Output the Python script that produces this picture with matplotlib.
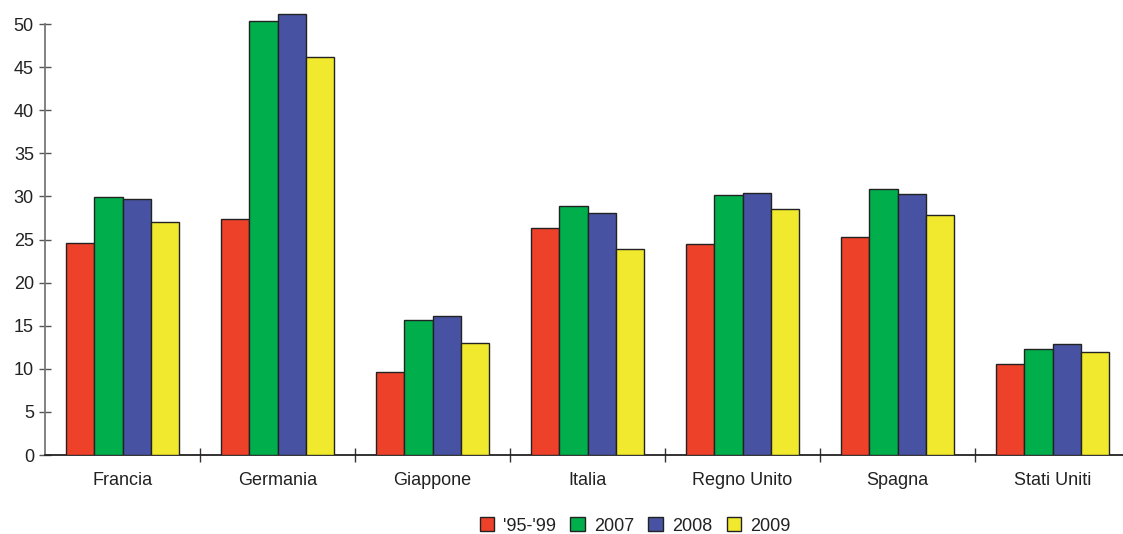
import numpy as np
import matplotlib
matplotlib.use("Agg")
import matplotlib.pyplot as plt

plt.rcParams['font.family'] = ['Liberation Sans', 'DejaVu Sans']

# ── data ─────────────────────────────────────────────────────────────────
countries = ["Francia", "Germania", "Giappone", "Italia", "Regno Unito", "Spagna", "Stati Uniti"]
series_labels = ["'95-'99", "2007", "2008", "2009"]
v_95_99 = [24.6, 27.4, 9.6, 26.3, 24.5, 25.3, 10.6]
v_2007 = [29.9, 50.3, 15.7, 28.9, 30.2, 30.9, 12.3]
v_2008 = [29.7, 51.2, 16.1, 28.1, 30.4, 30.3, 12.9]
v_2009 = [27.0, 46.2, 13.0, 23.9, 28.5, 27.8, 11.9]
yticks = [0, 5, 10, 15, 20, 25, 30, 35, 40, 45, 50]

colors = ["#EE4129", "#00AF4C", "#4753A2", "#F1E92D"]

fig = plt.figure(figsize=(11.23, 5.34), dpi=100)
# axes runs past the right edge, as in the original
ax = fig.add_axes([45 / 1123, (534 - 455) / 534, 1085 / 1123, (455 - 2.5) / 534])

x = np.arange(len(countries))
w = 0.182
for i, (vals, lab) in enumerate(zip([v_95_99, v_2007, v_2008, v_2009], series_labels)):
    ax.bar(x + (i - 1.5) * w, vals, width=w, color=colors[i], edgecolor="#222222",
           linewidth=1.0, label=lab, zorder=3)

ax.set_xlim(-0.5, len(countries) - 0.5)
ax.set_ylim(0, 52.5)

for s in ["top", "right"]:
    ax.spines[s].set_visible(False)
ax.spines["left"].set_bounds(0, 50)
ax.spines["left"].set_color("#777777")
ax.spines["left"].set_linewidth(1.3)
ax.spines["bottom"].set_color("#222222")
ax.spines["bottom"].set_linewidth(1.3)

ax.set_yticks(yticks)
ax.tick_params(axis="y", direction="inout", length=8, width=1, color="#555555",
               labelsize=13, labelcolor="#222222", pad=4)

# category boundary ticks, labels in between
ax.set_xticks(np.arange(0.5, len(countries) - 0.5), minor=False)
ax.set_xticklabels([])
ax.set_xticks(x, minor=True)
ax.set_xticklabels(countries, minor=True)
ax.tick_params(axis="x", which="major", direction="inout", length=10, width=1, color="#333333")
ax.tick_params(axis="x", which="minor", length=0, labelsize=13, labelcolor="#222222", pad=12)

fig.legend(loc="center", bbox_to_anchor=(635 / 1123, 1 - 526 / 534), ncol=4,
           frameon=False, fontsize=13, handlelength=0.8, handleheight=0.8,
           handletextpad=0.5, columnspacing=0.8, labelcolor="#222222")

fig.savefig("out.png", dpi=100)
